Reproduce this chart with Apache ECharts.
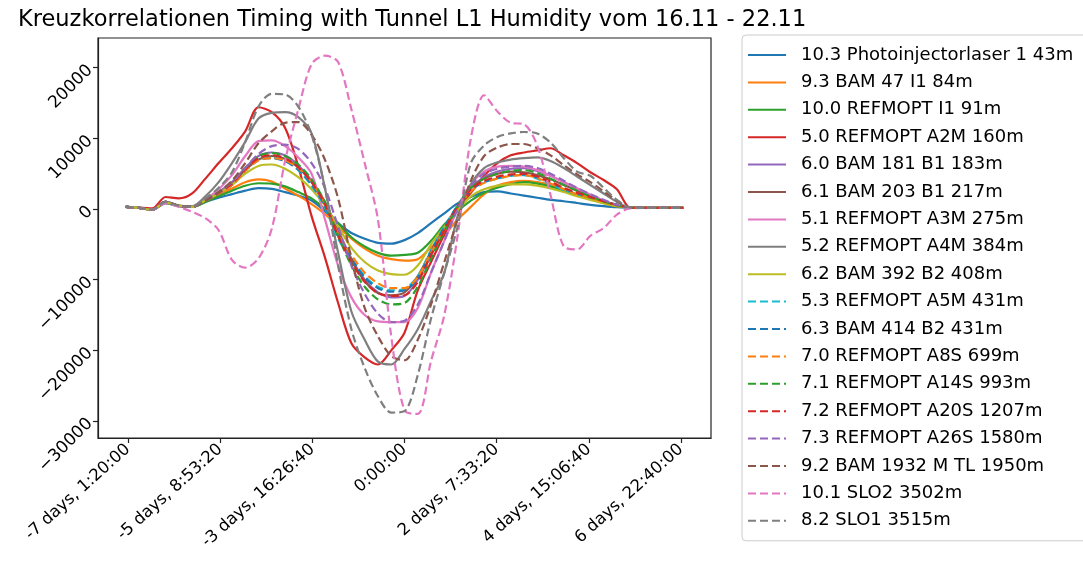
<!DOCTYPE html>
<html>
<head>
<meta charset="utf-8">
<script src="https://cdn.jsdelivr.net/npm/echarts@6/dist/echarts.min.js"></script>
<style>
  html, body { margin: 0; padding: 0; background: #fff; }
  #chart { width: 1083px; height: 579px; }
</style>
</head>
<body>
<div id="chart"></div>
<script>
// Lag of the cross-correlation, in hours (8 h steps over +/- 7 days)
const lagHours = [-168,-160,-152,-144,-136,-128,-120,-112,-104,-96,-88,-80,-72,-64,-56,-48,-40,-32,-24,-16,-8,0,8,16,24,32,40,48,56,64,72,80,88,96,104,112,120,128,136,144,152,160,168];

// Tick positions in seconds
const xTicks = [-600000,-400000,-200000,0,200000,400000,600000];
const yTicks = [-30000,-20000,-10000,0,10000,20000];

const seriesNames = [
  '10.3 Photoinjectorlaser 1 43m',
  '9.3 BAM 47 I1 84m',
  '10.0 REFMOPT I1 91m',
  '5.0 REFMOPT A2M 160m',
  '6.0 BAM 181 B1 183m',
  '6.1 BAM 203 B1 217m',
  '5.1 REFMOPT A3M 275m',
  '5.2 REFMOPT A4M 384m',
  '6.2 BAM 392 B2 408m',
  '5.3 REFMOPT A5M 431m',
  '6.3 BAM 414 B2 431m',
  '7.0 REFMOPT A8S 699m',
  '7.1 REFMOPT A14S 993m',
  '7.2 REFMOPT A20S 1207m',
  '7.3 REFMOPT A26S 1580m',
  '9.2 BAM 1932 M TL 1950m',
  '10.1 SLO2 3502m',
  '8.2 SLO1 3515m'
];

const photoinjector = [300,150,-100,800,400,300, 1000,1600,2100,2600,2950,2850,2400,1900,1200,-300, -2000,-3400,-4200,-4800,-4900,-4400,-3400,-2000,-600,800, 1700,2400,2500,2200,1900,1600,1300,1100,850,600, 400,250,200,150,150,150,150];
const bam47 = [300,150,-100,900,450,300, 1100,2000,2900,3800,4200,3900,2900,1900,700,-700, -2500,-4200,-5600,-6600,-7100,-7300,-7100,-5400,-3700,-1500, 300,2100,3300,3800,4000,3800,3400,2800,2100,1500, 900,400,200,150,150,150,150];
const refmoptI1 = [300,150,-100,850,450,300, 1000,1800,2600,3300,3650,3600,3200,2400,1500,0, -2000,-4000,-5300,-6200,-6600,-6500,-6200,-4500,-2200,-300, 1200,2300,3000,3500,3800,3600,3200,2600,2000,1400, 900,400,200,150,150,150,150];
const refmoptA2M = [300,200,100,1700,1500,2200, 4300,6500,8600,11000,14400,13700,11500,6000,-1000,-6800, -13300,-19000,-21000,-22000,-20000,-17500,-11500,-7500,-3600,0, 2300,4700,6500,7600,8000,8300,8600,7600,6500,5200, 4100,2800,200,150,150,150,150];
const bam181 = [300,150,-100,1000,450,300, 1300,2400,3800,5800,7500,8000,7600,6200,4000,1000, -3000,-7000,-10000,-11800,-12500,-12300,-10000,-6500,-3000,300, 3000,4500,5300,5700,5800,5400,4700,3800,2900,2000, 1200,500,200,150,150,150,150];
const bam203 = [300,150,-100,1000,450,300, 1200,2200,3500,5500,7000,7500,7100,5900,3800,1000, -3200,-7200,-10200,-11900,-12200,-11800,-9500,-6000,-2700,500, 3000,4300,5000,5300,5200,4800,4200,3400,2600,1800, 1000,400,200,150,150,150,150];
const refmoptA3M = [300,150,-100,1000,450,300, 1400,2800,4800,7500,9600,9700,8900,7300,5000,-1400, -8000,-12500,-15000,-15900,-16000,-16000,-14000,-9000,-4500,0, 3500,5300,6000,6100,6000,5500,4700,3800,2900,2000, 1200,500,200,150,150,150,150];
const refmoptA4M = [300,150,-100,1000,500,400, 1800,3800,6500,9500,12800,13600,13700,13000,10700,3000, -6200,-14500,-18500,-21600,-22000,-19800,-17000,-13000,-9000,-1000, 3500,5800,6600,7000,7200,7300,6800,5800,4600,3400, 2200,1000,200,150,150,150,150];
const bam392 = [300,150,-100,900,500,300, 1200,2200,3400,5000,6100,6300,5700,4500,2800,500, -2500,-5500,-7500,-8700,-9200,-9300,-8000,-5000,-2500,-200, 1800,2800,3300,3500,3500,3300,2900,2400,1800,1300, 800,400,200,150,150,150,150];
const refmoptA5M = [300,150,-100,1000,450,300, 1200,2200,3500,5500,7000,7300,6800,5500,3300,300, -4200,-7000,-9500,-11000,-11500,-11300,-9500,-5800,-2500,500, 2800,3800,4300,4700,4800,4300,3500,2700,2100,1700, 1100,600,200,150,150,150,150];
const bam414 = [300,150,-100,1000,450,300, 1200,2200,3400,5400,6900,7200,6800,5600,3500,500, -3800,-7000,-9700,-11200,-11700,-11500,-9800,-6000,-2600,400, 2700,3800,4400,4800,4900,4500,3700,2900,2200,1700, 1100,600,200,150,150,150,150];
const refmoptA8S = [300,150,-100,1000,450,300, 1200,2200,3400,5400,6900,7200,6900,5800,3800,800, -3500,-6500,-9000,-10500,-11200,-11200,-9600,-6200,-3000,200, 2500,3700,4300,4700,4800,4400,3600,2800,2100,1600, 1000,500,200,150,150,150,150];
const refmoptA14S = [300,150,-100,1000,450,300, 1300,2400,3800,5800,7500,7900,7500,6300,4200,1000, -3800,-8000,-11000,-12800,-13500,-13300,-11000,-7000,-3200,300, 3000,4300,5000,5400,5500,5100,4300,3400,2600,1800, 1100,500,200,150,150,150,150];
const refmoptA20S = [300,150,-100,1000,450,300, 1200,2300,3600,5600,7200,7600,7200,5900,3800,700, -3800,-7500,-10300,-11900,-12300,-12200,-10300,-6500,-3000,300, 2800,4000,4600,4900,5000,4600,3900,3000,2300,1700, 1100,600,200,150,150,150,150];
const refmoptA26S = [300,150,-100,1000,450,300, 1300,2400,3800,5800,7800,8900,9100,8500,6500,3000, -2500,-8000,-12000,-14800,-16000,-15800,-13500,-9000,-4500,0, 3300,5000,5700,6000,6100,5800,5000,4000,3000,2100, 1300,600,200,150,150,150,150];
const bam1932 = [300,150,-100,1000,450,300, 1200,2400,4000,6500,9300,11000,12200,12300,10500,7000, 1500,-7000,-14000,-18000,-20800,-21400,-18500,-13500,-7500,-1500, 4000,7500,8700,9200,9200,8600,7600,6200,4900,3800, 2500,1200,200,150,150,150,150];
const slo2 = [300,150,-100,800,300,-400, -1300,-3000,-7200,-8300,-7000,-2800,6800,14100,20500,21700, 20800,14100,6500,-1500,-18000,-28500,-29000,-21500,-15000,-3800, 10000,16100,13800,12200,12000,9000,2000,-5300,-5700,-3800, -2700,-800,100,150,150,150,150];
const slo1 = [300,150,-100,1000,450,300, 1500,3000,5200,9500,14500,16300,16200,14500,10500,3000, -8000,-17000,-22500,-26500,-28800,-28600,-23500,-15500,-9000,-2500, 6500,9000,10200,10700,10900,10700,9400,7200,5300,4700, 3000,1300,200,150,150,150,150];

const seriesValues = [photoinjector, bam47, refmoptI1, refmoptA2M, bam181, bam203, refmoptA3M, refmoptA4M, bam392,
  refmoptA5M, bam414, refmoptA8S, refmoptA14S, refmoptA20S, refmoptA26S, bam1932, slo2, slo1];

const palette = ['#1f77b4','#ff7f0e','#2ca02c','#d62728','#9467bd','#8c564b','#e377c2','#7f7f7f','#bcbd22','#17becf'];
// the first nine are solid, the rest dashed; dashed ones restart the colour cycle at cyan
const lineColors = [0,1,2,3,4,5,6,7,8, 9,0,1,2,3,4,5,6,7].map(i => palette[i]);
const dashed = seriesNames.map((_, i) => i >= 9);

function pad2(n) { return (n < 10 ? '0' : '') + n; }
// seconds -> "-7 days, 1:20:00" style text
function timedeltaText(sec) {
  const d = Math.floor(sec / 86400);
  let r = sec - d * 86400;
  const h = Math.floor(r / 3600); r -= h * 3600;
  const m = Math.floor(r / 60);
  const s = Math.round(r - m * 60);
  const t = h + ':' + pad2(m) + ':' + pad2(s);
  if (d === 0) return t;
  return d + (Math.abs(d) === 1 ? ' day, ' : ' days, ') + t;
}

const font = 'DejaVu Sans';
const series = seriesNames.map((name, i) => ({
  name: name,
  type: 'line',
  symbol: 'none',
  smooth: 0.3,
  data: lagHours.map((h, k) => [h * 3600, seriesValues[i][k]]),
  lineStyle: {
    color: lineColors[i],
    width: 2.2,
    type: dashed[i] ? [8, 4] : 'solid'
  },
  itemStyle: { color: lineColors[i] },
  emphasis: { disabled: true },
  animation: false
}));

const chart = echarts.init(document.getElementById('chart'), null, { renderer: 'canvas' });
chart.setOption({
  backgroundColor: '#ffffff',
  animation: false,
  title: {
    text: 'Kreuzkorrelationen Timing with Tunnel L1 Humidity vom 16.11 - 22.11',
    left: 13,
    top: 4,
    textStyle: { fontFamily: font, fontSize: 22.5, fontWeight: 'normal', color: '#000' }
  },
  legend: {
    orient: 'vertical',
    left: 742,
    top: 35,
    padding: [11, 30, 11, 5],
    itemWidth: 38,
    itemHeight: 14,
    itemGap: 9.4,
    backgroundColor: 'rgba(255,255,255,0.8)',
    borderColor: '#cccccc',
    borderWidth: 1,
    borderRadius: 4,
    selectedMode: false,
    itemStyle: { opacity: 0 },
    textStyle: { fontFamily: font, fontSize: 18, color: '#000', lineHeight: 18, padding: [0, 0, 0, 10] },
    data: seriesNames
  },
  grid: { left: 98, top: 38, width: 613, height: 400, show: true, borderColor: '#222', borderWidth: 1.2, backgroundColor: 'transparent' },
  xAxis: {
    type: 'value',
    min: -665000,
    max: 665000,
    splitLine: { show: false },
    axisLine: { show: true, onZero: false, lineStyle: { color: '#222', width: 1.2 } },
    axisTick: { show: true, length: 5, customValues: xTicks, lineStyle: { color: '#222', width: 1.2 } },
    axisLabel: {
      customValues: xTicks,
      rotate: 42,
      margin: 9,
      fontFamily: font,
      fontSize: 16.5,
      color: '#000',
      formatter: v => timedeltaText(v)
    }
  },
  yAxis: {
    type: 'value',
    min: -32400,
    max: 24200,
    splitLine: { show: false },
    axisLine: { show: true, onZero: false, lineStyle: { color: '#222', width: 1.2 } },
    axisTick: { show: true, length: 5, customValues: yTicks, lineStyle: { color: '#222', width: 1.2 } },
    axisLabel: {
      customValues: yTicks,
      rotate: 45,
      margin: 8,
      fontFamily: font,
      fontSize: 17,
      color: '#000',
      formatter: v => String(v).replace('-', '\u2212')
    }
  },
  series: series
});
</script>
</body>
</html>
